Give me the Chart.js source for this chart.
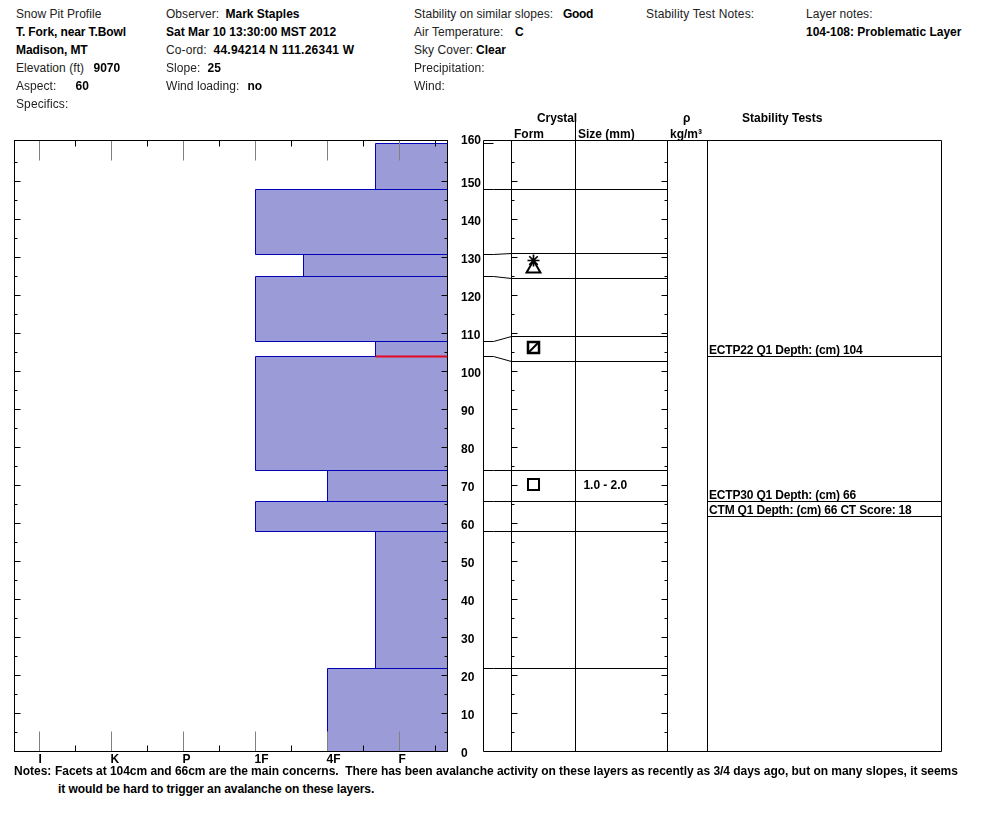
<!DOCTYPE html>
<html>
<head>
<meta charset="utf-8">
<script src="https://cdn.jsdelivr.net/npm/chart.js@4/dist/chart.umd.min.js"></script>
<style>
html,body{margin:0;padding:0;background:#fff;width:994px;height:840px;overflow:hidden;font-family:"Liberation Sans",Arial,sans-serif;font-size:12px;color:#111}
canvas{position:absolute}
.t{position:absolute;white-space:pre;line-height:18px;height:18px}
.b{font-weight:bold;color:#000}
.n{color:#222;letter-spacing:.04px}
#div{position:absolute;left:575px;top:113px;width:1px;height:28px;background:#000}
</style>
</head>
<body>
<canvas id="hard" width="460" height="680" style="left:0;top:100px"></canvas>
<canvas id="table" width="539" height="680" style="left:455px;top:100px"></canvas>
<div id="div"></div>
<script>
// ---- data ----
const hardnessLabels = ['I','K','P','1F','4F','F'];
const layerBottoms  = [0, 21.9, 58, 65.9, 74, 104, 108, 125, 130.9, 148];
const layerTops     = [21.9, 58, 65.9, 74, 104, 108, 125, 130.9, 148, 160];
const layerHardness = [4, 4.667, 3, 4, 3, 4.667, 3, 3.667, 3, 4.667];
const weakLayerDepth = 104;
const pitBoundaries     = [21.9, 58, 65.9, 74, 104, 108, 125, 130.9, 148];
const displayBoundaries = [21.9, 58, 65.9, 74, 102.7, 109.3, 124.4, 131.1, 148];
const snowSurface = 160;
const tableColumns = [0, 28, 92, 184, 224, 458];
const grainSizeText = '1.0 - 2.0';
const grainSizeDepth = 70;
const stabilityTestText = ['ECTP22 Q1 Depth: (cm) 104','ECTP30 Q1 Depth: (cm) 66','CTM Q1 Depth: (cm) 66 CT Score: 18'];
const stabilityTestLines = [104, 65.9, 61.9];
const squareDepth = [70.3];
const facetRoundDepth = [106.2];
const triangleDepth = [127.2];
const starDepth = [129.3];
const headerRows = [
 [16,14,'n','Snow Pit Profile',0],[166,14,'n','Observer:',0],[225.5,14,'b','Mark Staples',0],[414,14,'n','Stability on similar slopes:',0],[563,14,'b','Good',-.3],[646,14,'n','Stability Test Notes:',.15],[806,14,'n','Layer notes:',0],
 [16,32,'b','T. Fork, near T.Bowl',-.1],[166,32,'b','Sat Mar 10 13:30:00 MST 2012',0],[414,32,'n','Air Temperature:',.05],[515,32,'b','C',0],[806,32,'b','104-108: Problematic Layer',0],
 [16,50,'b','Madison, MT',-.1],[166,50,'n','Co-ord:',.1],[213.5,50,'b','44.94214 N 111.26341 W',.25],[414,50,'n','Sky Cover:',.05],[476,50,'b','Clear',0],
 [16,68,'n','Elevation (ft)',.05],[93.5,68,'b','9070',0],[166,68,'n','Slope:',0],[207.5,68,'b','25',0],[414,68,'n','Precipitation:',.1],
 [16,86,'n','Aspect:',0],[75.5,86,'b','60',0],[166,86,'n','Wind loading:',.05],[247.5,86,'b','no',0],[414,86,'n','Wind:',0],
 [16,104,'n','Specifics:',.1],
 [537,117.5,'b','Crystal',-.1],[514,134,'b','Form',0],[578,134,'b','Size (mm)',0],[683,118,'b','\u03c1',0],[670,134,'b','kg/m\u00b3',0],[742,117.5,'b','Stability Tests',0],
 [14,771,'b','Notes:',0],
 [55,771,'b','Facets at 104cm and 66cm are the main concerns.  There has been avalanche activity on these layers as recently as 3/4 days ago, but on many slopes, it seems',-.04],
 [58,789,'b','it would be hard to trigger an avalanche on these layers.',-.08]
];
// ------------------------------------
headerRows.forEach(([x,y,c,s,ls])=>{
  const d=document.createElement('div');d.className='t '+c;d.textContent=s;d.style.left=x+'px';d.style.top=(y-9)+'px';
  if(ls)d.style.letterSpacing=ls+'px';document.body.appendChild(d);
});
const FONT='"Liberation Sans", Arial, sans-serif';
Chart.defaults.font.family=FONT;Chart.defaults.font.size=12;Chart.defaults.animation=false;
const fill='rgb(155,155,215)', edge='rgb(0,0,185)';
const crisp=s=>{const f=s.getPixelForValue;s.getPixelForValue=(v,i)=>Math.floor(f.call(s,v,i))+.5;};
const line=(ctx,a,b,c,d)=>{ctx.beginPath();ctx.moveTo(a,b);ctx.lineTo(c,d);ctx.stroke();};
const HMAX=5.6667, HMIN=-0.3472, DMAX=160.79;

const hardTicks={id:'hardTicks',afterDatasetsDraw(ch){
  const c=ch.ctx,{left:l,right:r,top:t,bottom:b}=ch.chartArea;c.save();c.lineWidth=1;
  for(let v=5;v<160;v+=5){const y=ch.scales.y.getPixelForValue(v),L=v%10?3:6;c.strokeStyle='#000';line(c,l,y,l+L,y);line(c,r,y,r-L,y);}
  for(let i=0;i<hardnessLabels.length;i++){
    const x=ch.scales.x.getPixelForValue(i);c.strokeStyle='#808080';line(c,x,t,x,t+20);line(c,x,b,x,b-20);
    const m=ch.scales.x.getPixelForValue(i+.5);c.strokeStyle='#000';line(c,m,t,m,t+6);line(c,m,b,m,b-6);
  }
  c.strokeStyle='#000';c.strokeRect(l,t,r-l,b-t);c.restore();
}};
const layerSets=layerHardness.map((h,i)=>({
  data:[{x:HMAX,y:layerBottoms[i]},{x:h,y:layerBottoms[i]},{x:h,y:layerTops[i]},{x:HMAX,y:layerTops[i]}],
  borderColor:edge,backgroundColor:fill,borderWidth:1,fill:'end',pointRadius:0,tension:0
}));
new Chart(document.getElementById('hard'),{
  type:'line',
  data:{datasets:[{data:[{x:layerHardness[5],y:weakLayerDepth},{x:HMAX,y:weakLayerDepth}],borderColor:'rgb(228,10,35)',borderWidth:2,pointRadius:0,fill:false},...layerSets]},
  plugins:[hardTicks],
  options:{responsive:false,indexAxis:'y',
    layout:{padding:{left:14.5,right:12.5,top:40.5,bottom:0}},
    plugins:{legend:{display:false},tooltip:{enabled:false}},
    scales:{
      x:{type:'linear',position:'bottom',min:HMIN,max:HMAX,
        afterFit(s){s.height=28.5;},afterUpdate:crisp,
        grid:{display:false,drawTicks:false},border:{display:false},
        ticks:{stepSize:1,includeBounds:false,autoSkip:false,maxRotation:0,align:'start',padding:1,labelOffset:-1,color:'#000',font:{weight:'bold',size:12},
          callback:v=>hardnessLabels[v]}},
      y:{type:'linear',display:false,min:0,max:DMAX,afterUpdate:crisp,ticks:{stepSize:5,includeBounds:false}}
    }}
});

const tableDraw={id:'tableDraw',
  beforeDraw(ch){
    const it=ch.scales.y.getLabelItems().find(i=>i.label==='160');
    if(it&&!it._moved){it._moved=true;it.options.translation[1]-=5;}
  },
  afterDatasetsDraw(ch){
  const c=ch.ctx,{left:l,right:r,top:t,bottom:b}=ch.chartArea,X=ch.scales.x,Y=ch.scales.y;c.save();c.lineWidth=1;c.strokeStyle='#000';
  const xc=v=>X.getPixelForValue(v);
  tableColumns.forEach(v=>line(c,xc(v),t,xc(v),b));
  line(c,l,t,r,t);line(c,l,b,r,b);
  for(let v=5;v<160;v+=5){const y=Y.getPixelForValue(v),L=v%10?3:6;line(c,xc(tableColumns[1]),y,xc(tableColumns[1])+L,y);line(c,xc(tableColumns[3]),y,xc(tableColumns[3])-L,y);}
  c.fillStyle='#000';c.font='bold 12px '+FONT;c.textBaseline='middle';c.textAlign='left';
  c.letterSpacing='-0.05px';
  c.fillText(grainSizeText,xc(tableColumns[2])+8,Y.getPixelForValue(grainSizeDepth)+.5);
  c.letterSpacing='-0.18px';
  stabilityTestText.forEach((s,i)=>c.fillText(s,xc(tableColumns[4])+1.5,Y.getPixelForValue(stabilityTestLines[i])-6));
  c.restore();
}};
const bk='#000';
const boundarySets=pitBoundaries.map((d,i)=>({showLine:true,pointRadius:0,borderColor:bk,borderWidth:1,
  data:[{x:tableColumns[0],y:d},{x:10,y:d},{x:tableColumns[1],y:displayBoundaries[i]},{x:tableColumns[3],y:displayBoundaries[i]}]}));
const testSets=stabilityTestLines.map(d=>({showLine:true,pointRadius:0,borderColor:bk,borderWidth:1,
  data:[{x:tableColumns[4],y:d},{x:tableColumns[5],y:d}]}));
const symbol=(depth,style,r,w,rot)=>({showLine:false,pointStyle:style,pointRadius:r,pointBorderWidth:w,pointRotation:rot||0,
  pointBorderColor:bk,pointBackgroundColor:'rgba(0,0,0,0)',borderColor:bk,backgroundColor:'rgba(0,0,0,0)',
  data:depth.map(y=>({x:50,y}))});
new Chart(document.getElementById('table'),{
  type:'scatter',
  data:{datasets:[
    {showLine:true,pointRadius:0,borderColor:bk,borderWidth:1,data:[{x:tableColumns[0],y:snowSurface},{x:10,y:snowSurface}]},
    ...boundarySets,...testSets,
    symbol(squareDepth,'rect',7.8,2),
    symbol(facetRoundDepth,'rect',7.8,2.5),
    symbol(facetRoundDepth,'line',7,2,-45),
    symbol(triangleDepth,'triangle',8,2),
    symbol(starDepth,'star',6,1.7)
  ]},
  plugins:[tableDraw],
  options:{responsive:false,clip:false,
    layout:{padding:{left:6,right:52.5,top:40.5,bottom:28.5}},
    plugins:{legend:{display:false},tooltip:{enabled:false}},
    scales:{
      x:{type:'linear',display:false,min:0,max:458,afterUpdate:crisp},
      y:{type:'linear',position:'left',min:0,max:DMAX,afterFit(s){s.width=22.5;},afterUpdate:crisp,
        grid:{display:false,drawTicks:false},border:{display:false},
        ticks:{stepSize:10,includeBounds:false,autoSkip:false,crossAlign:'far',padding:0,color:'#000',labelOffset:2,font:{weight:'bold',size:12}}}
    }}
});
</script>
</body>
</html>
